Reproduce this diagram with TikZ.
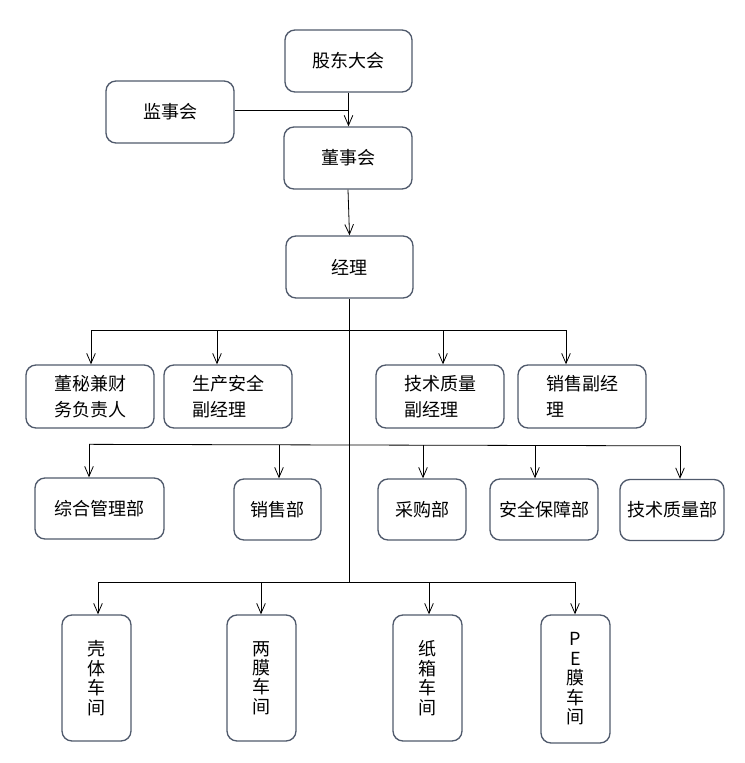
\documentclass[tikz,border=0pt]{standalone}
\usepackage{fontspec}
\setmainfont{Noto Sans CJK SC}
\usepackage{tikz}
\usetikzlibrary{arrows.meta,calc,positioning}
\definecolor{boxline}{RGB}{80,90,108}

\begin{document}
\begin{tikzpicture}[
      x=0.75pt, y=-0.75pt,
      font=\fontsize{13.5pt}{19.5pt}\selectfont,
      box/.style={draw=boxline, line width=1pt, rounded corners=7.5pt, align=center, inner sep=0pt, minimum width=96pt, minimum height=46.5pt},
      twoline/.style={box, align=left, minimum height=47.25pt},
      dept/.style={box, minimum height=45.75pt},
      shop/.style={box, minimum width=51.75pt, minimum height=94.5pt, font=\fontsize{13.5pt}{14.6pt}\selectfont},
      arrow/.style={-{Straight Barb[length=7.5pt,width=6.5pt]}, line width=0.6pt},
      link/.style={line width=0.6pt}
    ]
    \useasboundingbox (0,0) rectangle (744,763);
    % top
    \node[box, minimum width=95.25pt] (gd) at (348.5,61) {股东大会};
    \node[box] (js) at (170,112) {监事会};
    \node[box] (ds) at (348,158) {董事会};
    \node[box, minimum width=95.25pt] (jl) at (349.5,267) {经理};
    % deputies
    \node[twoline] (dm) at (90,396.5) {董秘兼财\\务负责人};
    \node[twoline] (sc) at (228,396.5) {生产安全\\副经理};
    \node[twoline] (jz) at (440,396.5) {技术质量\\副经理};
    \node[twoline] (xf) at (582,396.5) {销售副经\\理};
    % departments
    \node[dept, minimum width=96.75pt] (zh) at (99.5,508.5) {综合管理部};
    \node[dept, minimum width=65.25pt] (xs) at (277.5,509.5) {销售部};
    \node[dept, minimum width=66pt] (cg) at (422,509.5) {采购部};
    \node[dept, minimum width=81pt] (aq) at (544,509.5) {安全保障部};
    \node[dept, minimum width=78pt] (jb) at (672,510) {技术质量部};
    % workshops
    \node[shop] (kt) at (96.5,678) {壳\\体\\车\\间};
    \node[shop] (lm) at (261.5,678) {两\\膜\\车\\间};
    \node[shop] (zx) at (427.5,678) {纸\\箱\\车\\间};
    \node[shop, minimum height=96pt] (pe) at (575.5,679) {P\\E\\膜\\车\\间};

    \coordinate (b3) at (349,583);
    \draw[arrow] (gd.south) -- (gd.south |- ds.north);
    \draw[link] (js.east |- 0,110) -- (gd.south |- 0,110);
    \draw[arrow] (ds.south) -- (jl.north);
    \draw[link] (jl.south) -- (jl.south |- b3);

    \draw[link] ($(dm.north)+(1,-34)$) -- ($(xf.north)+(-16,-34)$);
    \foreach \n/\dx in {dm/1, sc/-11, jz/3, xf/-16}
      \draw[arrow] ($(\n.north)+(\dx,-34)$) -- ($(\n.north)+(\dx,0)$);

    \draw[link] ($(zh.north)+(-10.5,-33)$) -- ($(jb.north)+(8,-33)$);
    \foreach \n/\dx in {zh/-10.5, xs/1.5, cg/1, aq/-9, jb/8}
      \draw[arrow] ($(\n.north)+(\dx,-33)$) -- ($(\n.north)+(\dx,0)$);

    \draw[link] ($(kt.north)+(1.5,-32)$) -- ($(pe.north)+(-0.5,-32)$);
    \foreach \n/\dx in {kt/1.5, lm/-0.5, zx/1.5, pe/-0.5}
      \draw[arrow] ($(\n.north)+(\dx,-32)$) -- ($(\n.north)+(\dx,0)$);
  \end{tikzpicture}
\end{document}
